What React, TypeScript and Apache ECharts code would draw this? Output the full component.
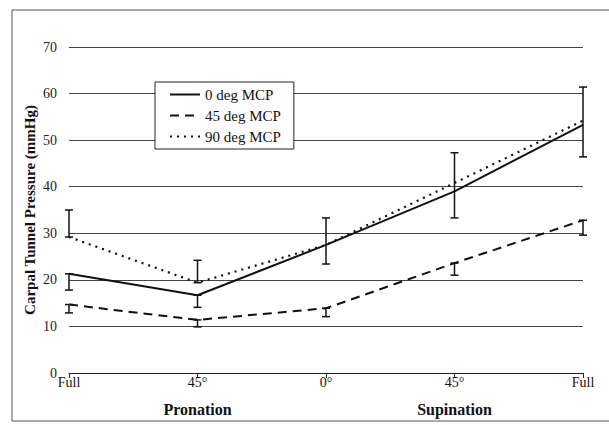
import React, { useEffect, useRef } from "react";
import * as echarts from "echarts";

const categories = ["Full", "45°", "0°", "45°", "Full"];
const subLabels = ["", "Pronation", "", "Supination", ""];
const yTicks = [0, 10, 20, 30, 40, 50, 60, 70];

const mcp0 = [21.3, 16.7, 27.5, 39.0, 53.3];
const mcp45 = [14.7, 11.4, 13.9, 23.6, 32.8];
const mcp90 = [29.2, 19.4, 27.5, 40.8, 54.2];

// error bars: [category index, low, high]
const errMcp0 = [
  [0, 17.8, 21.3],
  [1, 14.1, 16.7],
  [2, 23.4, 33.3],
  [3, 33.3, 47.3],
  [4, 46.4, 61.4],
];
const errMcp45 = [
  [0, 12.9, 14.7],
  [1, 9.9, 11.4],
  [2, 12.1, 13.9],
  [3, 21.0, 23.6],
  [4, 29.6, 32.8],
];
const errMcp90 = [
  [0, 29.2, 35.0],
  [1, 19.4, 24.2],
];

const FONT = "Liberation Serif";

export default function App() {
  const ref = useRef<HTMLDivElement>(null);
  useEffect(() => {
    document.body.style.margin = "0";
    const chart = echarts.init(ref.current!, null, { renderer: "svg" });
    const errData = [...errMcp0, ...errMcp45, ...errMcp90];
    chart.setOption({
      animation: false,
      backgroundColor: "#fff",
      grid: { left: 69, right: 26, top: 47, bottom: 52 },
      graphic: [
        {
          type: "rect",
          shape: { x: 12, y: 10, width: 620, height: 411 },
          style: { fill: "none", stroke: "#555", lineWidth: 1 },
          silent: true,
          z: -1,
        },
      ],
      legend: {
        orient: "vertical",
        left: 155,
        top: 82,
        itemWidth: 30,
        itemHeight: 10,
        itemGap: 6,
        padding: [5, 13, 5, 14],
        backgroundColor: "#fff",
        borderColor: "#222",
        borderWidth: 1,
        itemStyle: { opacity: 0 },
        textStyle: { fontFamily: FONT, fontSize: 15, color: "#111" },
        data: ["0 deg MCP", "45 deg MCP", "90 deg MCP"],
      },
      xAxis: {
        type: "category",
        data: categories,
        boundaryGap: false,
        axisLine: { lineStyle: { color: "#222", width: 1 } },
        axisTick: { length: 5, lineStyle: { color: "#222" } },
        splitLine: { show: false },
        axisLabel: {
          margin: 2,
          interval: 0,
          formatter: (v: string, i: number) =>
            subLabels[i] ? `{a|${v}}\n{b|${subLabels[i]}}` : `{a|${v}}\n{b| }`,
          rich: {
            a: { fontFamily: FONT, fontSize: 14, color: "#111", lineHeight: 14 },
            b: { fontFamily: FONT, fontSize: 16, fontWeight: "bold", color: "#111", lineHeight: 40 },
          },
        },
      },
      yAxis: {
        type: "value",
        min: 0,
        max: 70,
        interval: 10,
        name: "Carpal Tunnel Pressure (mmHg)",
        nameLocation: "middle",
        nameGap: 32,
        nameMoveOverlap: false,
        nameTextStyle: { fontFamily: FONT, fontSize: 15, fontWeight: "bold", color: "#111" },
        axisLine: { show: false },
        axisTick: { show: false },
        axisLabel: {
          margin: 12,
          fontFamily: FONT,
          fontSize: 14,
          color: "#222",
          formatter: (v: number) => (yTicks.includes(v) ? String(v) : ""),
        },
        splitLine: { lineStyle: { color: "#444", width: 1 } },
      },
      series: [
        {
          name: "0 deg MCP",
          type: "line",
          data: mcp0,
          symbol: "none",
          lineStyle: { color: "#111", width: 2, type: "solid" },
          itemStyle: { color: "#111" },
          z: 3,
        },
        {
          name: "45 deg MCP",
          type: "line",
          data: mcp45,
          symbol: "none",
          lineStyle: { color: "#111", width: 2, type: [9, 6] },
          itemStyle: { color: "#111" },
          z: 3,
        },
        {
          name: "90 deg MCP",
          type: "line",
          data: mcp90,
          symbol: "none",
          lineStyle: { color: "#111", width: 2.2, type: [2, 5] },
          itemStyle: { color: "#111" },
          z: 3,
        },
        {
          type: "custom",
          name: "err",
          data: errData,
          z: 4,
          renderItem: (params: any, api: any) => {
            const x = api.value(0);
            const lo = api.coord([x, api.value(1)]);
            const hi = api.coord([x, api.value(2)]);
            const cw = 4;
            const style = { stroke: "#111", lineWidth: 1.5 };
            return {
              type: "group",
              children: [
                { type: "line", shape: { x1: lo[0], y1: lo[1], x2: hi[0], y2: hi[1] }, style },
                { type: "line", shape: { x1: lo[0] - cw, y1: lo[1], x2: lo[0] + cw, y2: lo[1] }, style },
                { type: "line", shape: { x1: hi[0] - cw, y1: hi[1], x2: hi[0] + cw, y2: hi[1] }, style },
              ],
            };
          },
        },
      ],
    });
    return () => chart.dispose();
  }, []);
  return <div ref={ref} style={{ width: 609, height: 425 }} />;
}
